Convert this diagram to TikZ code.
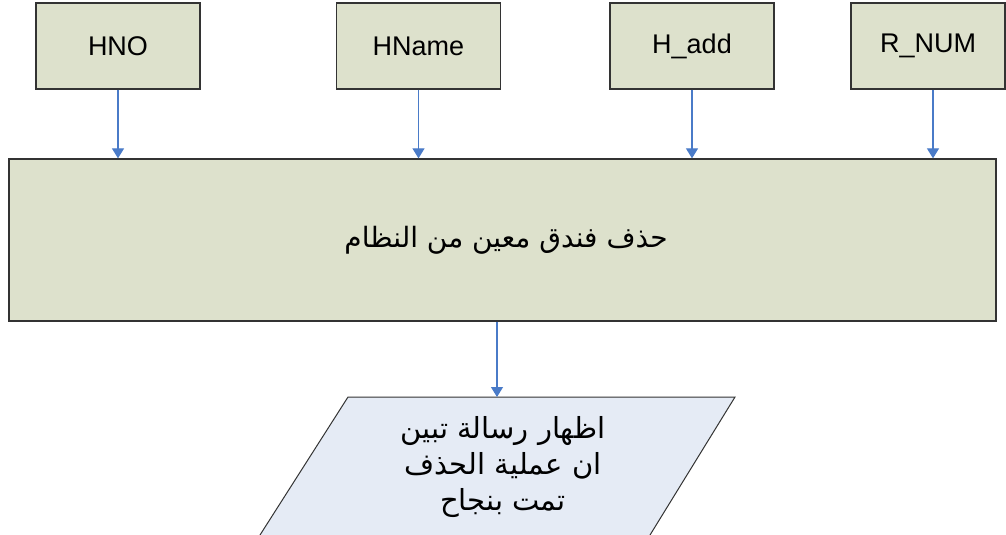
\documentclass[tikz,border=0pt]{standalone}
\usepackage{fontspec}
\setmainfont{Liberation Sans}
\newfontfamily\arabicfont[Script=Arabic]{DejaVu Sans}
\TeXXeTstate=1
\usetikzlibrary{arrows.meta}
\definecolor{boxgreen}{HTML}{DDE1CC}
\definecolor{boxblue}{HTML}{E5EBF5}
\definecolor{flowblue}{HTML}{4A7BC8}
\definecolor{edgegray}{HTML}{333333}
\tikzset{
  inbox/.style={draw=edgegray, line width=1.3pt, fill=boxgreen, minimum width=164pt,
    minimum height=86pt, inner sep=0pt, font=\fontsize{27}{32}\selectfont},
  procbox/.style={draw=edgegray, line width=1.3pt, fill=boxgreen, minimum width=987pt,
    minimum height=162pt, inner sep=0pt},
  flow/.style={draw=flowblue, line width=1.2pt, -{Triangle[length=10pt,width=12pt]}},
  artext/.style={font=\arabicfont\fontsize{29}{36}\selectfont, align=center}
}
\begin{document}
\begin{tikzpicture}[x=1pt,y=-1pt]
  \useasboundingbox (0,0) rectangle (1006,535);
  \draw
    (118,46) node[inbox] (hno){HNO}
    (418.5,46) node[inbox] (hname){HName}
    (692,46) node[inbox] (hadd){H\_add}
    (928,46) node[inbox, minimum width=154pt] (rnum){R\_NUM};
  \node[procbox] (del) at (502.5,240) {};
  \node[artext, font=\arabicfont\fontsize{28}{34}\selectfont] at (506,240) {\beginR حذف فندق معين من النظام\endR};
  % output parallelogram, cut by the lower edge
  \fill[boxblue] (348,397) -- (735,397) -- (650,535) -- (260,535) -- cycle;
  \draw[edgegray, line width=1pt] (260,535) -- (348,397) -- (735,397) -- (650,535);
  \coordinate (outtop) at (497,397);
  \node[artext] (msg) at (503,467) {\beginR اظهار رسالة تبين\endR\\
    \beginR ان عملية الحذف\endR\\ \beginR تمت بنجاح\endR};
  \begin{scope}[flow]
    \draw (hno.south) to (hno.south |- del.north);
    \draw (hname.south) to (hname.south |- del.north);
    \draw (hadd.south) to (hadd.south |- del.north);
    \draw ([xshift=5pt]rnum.south) to ([xshift=5pt]rnum.south |- del.north);
    \draw (outtop |- del.south) to (outtop);
  \end{scope}
\end{tikzpicture}
\end{document}
